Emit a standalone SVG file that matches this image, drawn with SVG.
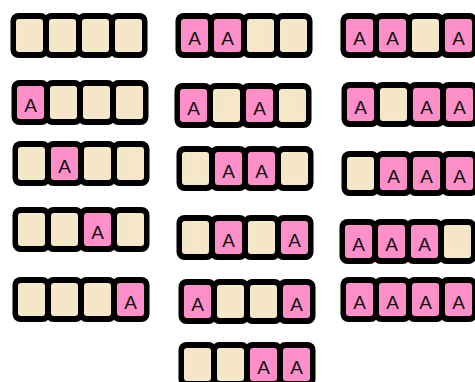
<svg xmlns="http://www.w3.org/2000/svg" xmlns:xlink="http://www.w3.org/1999/xlink" width="475" height="382" viewBox="0 0 475 382">
<style>
.frame{fill:#000}
.pinkf{fill:#ff8fc9}
.lbl{font-family:"Liberation Sans",Arial,sans-serif;font-size:19px;fill:#111;text-anchor:middle}
</style>
<defs>
<pattern id="paper" patternUnits="userSpaceOnUse" x="0" y="0" width="27" height="33">
<rect width="27" height="33" fill="#f5e8c9"/>
<g stroke="#e6d5ad" stroke-width="0.8" opacity="0.4">
<line x1="0" y1="7" x2="27" y2="7"/>
<line x1="0" y1="15" x2="27" y2="15"/>
<line x1="0" y1="23" x2="27" y2="23"/>
<line x1="9" y1="0" x2="9" y2="33"/>
<line x1="19" y1="0" x2="19" y2="33"/>
</g>
</pattern>
<g id="bl">
<rect class="frame" x="-5.5" y="-6" width="38" height="45" rx="8"/>
<rect width="27" height="33" rx="3" fill="url(#paper)"/>
</g>
<g id="pk">
<rect class="frame" x="-5.5" y="-6" width="38" height="45" rx="8"/>
<rect class="pinkf" width="27" height="33" rx="3"/>
<text class="lbl" x="13.5" y="26">A</text>
</g>
</defs>
<rect width="475" height="382" fill="#fff"/>

<g id="c1r1" transform="translate(16,19)">
<use href="#bl" x="0"/><use href="#bl" x="33"/><use href="#bl" x="66"/><use href="#bl" x="99"/>
</g>
<g id="c1r2" transform="translate(17,86)">
<use href="#pk" x="0"/><use href="#bl" x="33"/><use href="#bl" x="66"/><use href="#bl" x="99"/>
</g>
<g id="c1r3" transform="translate(18,147)">
<use href="#bl" x="0"/><use href="#pk" x="33"/><use href="#bl" x="66"/><use href="#bl" x="99"/>
</g>
<g id="c1r4" transform="translate(18,213)">
<use href="#bl" x="0"/><use href="#bl" x="33"/><use href="#pk" x="66"/><use href="#bl" x="99"/>
</g>
<g id="c1r5" transform="translate(18,283)">
<use href="#bl" x="0"/><use href="#bl" x="33"/><use href="#bl" x="66"/><use href="#pk" x="99"/>
</g>

<g id="c2r1" transform="translate(181,19)">
<use href="#pk" x="0"/><use href="#pk" x="33"/><use href="#bl" x="66"/><use href="#bl" x="99"/>
</g>
<g id="c2r2" transform="translate(180,89)">
<use href="#pk" x="0"/><use href="#bl" x="33"/><use href="#pk" x="66"/><use href="#bl" x="99"/>
</g>
<g id="c2r3" transform="translate(182,152)">
<use href="#bl" x="0"/><use href="#pk" x="33"/><use href="#pk" x="66"/><use href="#bl" x="99"/>
</g>
<g id="c2r4" transform="translate(182,221)">
<use href="#bl" x="0"/><use href="#pk" x="33"/><use href="#bl" x="66"/><use href="#pk" x="99"/>
</g>
<g id="c2r5" transform="translate(184,285)">
<use href="#pk" x="0"/><use href="#bl" x="33"/><use href="#bl" x="66"/><use href="#pk" x="99"/>
</g>
<g id="c2r6" transform="translate(184,348)">
<use href="#bl" x="0"/><use href="#bl" x="33"/><use href="#pk" x="66"/><use href="#pk" x="99"/>
</g>

<g id="c3r1" transform="translate(346,19)">
<use href="#pk" x="0"/><use href="#pk" x="33"/><use href="#bl" x="66"/><use href="#pk" x="99"/>
</g>
<g id="c3r2" transform="translate(347,88)">
<use href="#pk" x="0"/><use href="#bl" x="33"/><use href="#pk" x="66"/><use href="#pk" x="99"/>
</g>
<g id="c3r3" transform="translate(347,157)">
<use href="#bl" x="0"/><use href="#pk" x="33"/><use href="#pk" x="66"/><use href="#pk" x="99"/>
</g>
<g id="c3r4" transform="translate(345,225)">
<use href="#pk" x="0"/><use href="#pk" x="33"/><use href="#pk" x="66"/><use href="#bl" x="99"/>
</g>
<g id="c3r5" transform="translate(346,283)">
<use href="#pk" x="0"/><use href="#pk" x="33"/><use href="#pk" x="66"/><use href="#pk" x="99"/>
</g>
</svg>
